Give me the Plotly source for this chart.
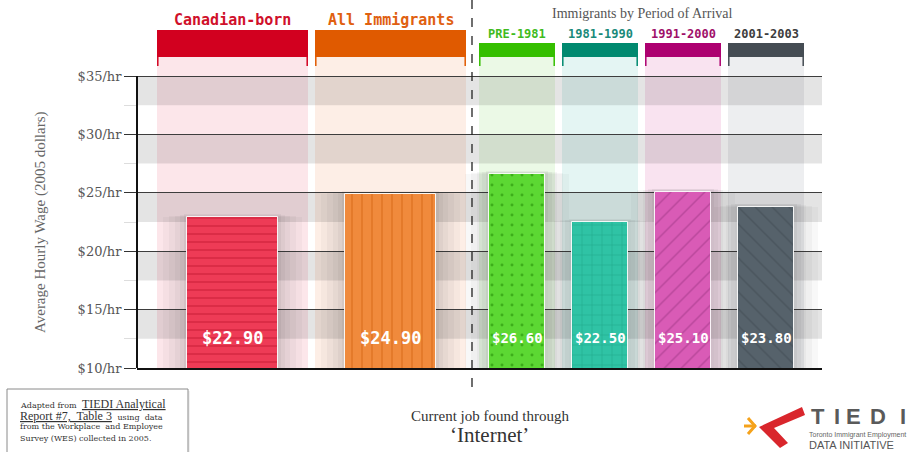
import plotly.graph_objects as go

# ---------------- data ----------------
categories = ["Canadian-born", "All Immigrants", "PRE-1981", "1981-1990", "1991-2000", "2001-2003"]
wages = [22.90, 24.90, 26.60, 22.50, 25.10, 23.80]
tick_vals = [10, 15, 20, 25, 30, 35]
tick_text = ["$10/hr", "$15/hr", "$20/hr", "$25/hr", "$30/hr", "$35/hr"]

# ---------------- layout constants (pixels of the 916x452 canvas) ----------------
W, H = 916, 452
PL, PR, PT, PB = 137, 822, 30, 368          # plot area
Y_MIN, Y_PX = 10, 11.68                      # $10 at bottom, px per dollar
Y_MAX = Y_MIN + (PB - PT) / Y_PX
col_centers = [95.5, 253.5, 380, 463, 546, 629]   # x in plot units (px from left of plot)
col_widths = [151, 151, 76, 76, 76, 76]
bar_widths = [91, 91, 56, 56, 56, 56]
header_tops = [30, 30, 43, 43, 43, 43]
header_colors = ["#D2001F", "#E05A00", "#35BF00", "#00896F", "#AD0070", "#454C53"]
label_colors = ["#D0102A", "#E06010", "#40BB20", "#1A8A7A", "#A0106A", "#3D3D3D"]
col_bg = ["#FCE6EA", "#FDEEE6", "#EBF9E6", "#E4F5F3", "#F9E3F0", "#EDEEF0"]
bar_colors = ["#EE3B56", "#F08A3C", "#5CD833", "#2FC3A5", "#D95BB6", "#56626B"]
pat_colors = ["#D42540", "#DD6F1E", "#3DAE1A", "#1FA68A", "#B9479B", "#4A555D"]
pat_shapes = ["-", "|", ".", "+", "/", "\\"]
pat_sizes = [8, 10, 10, 10, 12, 12]
pat_solid = [0.18, 0.12, 0.07, 0.1, 0.12, 0.12]


def px(x):
    return (x - PL) / (PR - PL)


def py(y):
    return (PB - y) / (PB - PT)


fig = go.Figure()

# soft shadows behind bars
for grow, lift, alpha in [(48, 0.0, 0.03), (36, 0.1, 0.035), (24, 0.15, 0.04),
                          (14, 0.2, 0.045), (6, 0.25, 0.05)]:
    fig.add_trace(go.Bar(
        x=col_centers, y=[v + lift for v in wages],
        width=[w + grow for w in bar_widths],
        marker=dict(color=f"rgba(40,40,40,{alpha})", line=dict(width=0)),
        hoverinfo="skip", showlegend=False))

# bars
for i, cat in enumerate(categories):
    fig.add_trace(go.Bar(
        x=[col_centers[i]], y=[wages[i]], width=[bar_widths[i]], name=cat,
        marker=dict(color=bar_colors[i],
                    line=dict(color="rgba(255,255,255,0.9)", width=1),
                    pattern=dict(shape=pat_shapes[i], fgcolor=pat_colors[i],
                                 bgcolor=bar_colors[i], size=pat_sizes[i],
                                 solidity=pat_solid[i], fillmode="replace")),
        showlegend=False, hovertemplate="%{y:$.2f}<extra>" + cat + "</extra>"))

shapes = []
# column backgrounds
for i in range(6):
    shapes.append(dict(type="rect", xref="x", yref="paper", layer="below",
                       x0=col_centers[i] - col_widths[i] / 2, x1=col_centers[i] + col_widths[i] / 2,
                       y0=0, y1=py(57), fillcolor=col_bg[i], line=dict(width=0)))
# gray bands
for lo in [12.5, 17.5, 22.5, 27.5, 32.5]:
    shapes.append(dict(type="rect", xref="paper", yref="y", layer="below",
                       x0=0, x1=1, y0=lo, y1=lo + 2.5,
                       fillcolor="rgba(0,0,0,0.105)", line=dict(width=0)))
# headers + brackets
for i in range(6):
    x0 = col_centers[i] - col_widths[i] / 2
    x1 = col_centers[i] + col_widths[i] / 2
    shapes.append(dict(type="rect", xref="x", yref="paper", layer="above",
                       x0=x0, x1=x1, y0=py(57), y1=py(header_tops[i]),
                       fillcolor=header_colors[i], line=dict(width=0)))
    for xx in (x0 + 0.8, x1 - 0.8):
        shapes.append(dict(type="line", xref="x", yref="paper", layer="above",
                           x0=xx, x1=xx, y0=py(57), y1=py(66),
                           line=dict(color=header_colors[i], width=1.5)))
# left axis line
shapes.append(dict(type="line", xref="paper", yref="y", layer="above",
                   x0=0, x1=0, y0=10, y1=35, line=dict(color="#111", width=2)))
# dashed divider
shapes.append(dict(type="line", xref="paper", yref="paper", layer="above",
                   x0=px(472), x1=px(472), y0=py(0), y1=py(390),
                   line=dict(color="#222", width=1.3, dash="dash")))
# footnote box
shapes.append(dict(type="rect", xref="paper", yref="paper", layer="above",
                   x0=px(9), x1=px(190), y0=py(391), y1=py(455),
                   fillcolor="rgba(0,0,0,0.06)", line=dict(width=0)))
shapes.append(dict(type="rect", xref="paper", yref="paper", layer="above",
                   x0=px(7), x1=px(188), y0=py(389), y1=py(453),
                   fillcolor="white", line=dict(color="#8a8a8a", width=1)))
# logo marks
arrow = [(802, 407), (805, 415), (774, 428), (788, 443), (780, 448), (759, 427)]
path = "M " + " L ".join(f"{px(a):.5f},{py(b):.5f}" for a, b in arrow) + " Z"
shapes.append(dict(type="path", xref="paper", yref="paper", layer="above", path=path,
                   fillcolor="#D9262C", line=dict(width=0)))
chev = [(748, 418), (755, 426), (748, 434)]
shapes.append(dict(type="path", xref="paper", yref="paper", layer="above",
                   path="M " + " L ".join(f"{px(a):.5f},{py(b):.5f}" for a, b in chev),
                   line=dict(color="#F5A21B", width=3)))
shapes.append(dict(type="line", xref="paper", yref="paper", layer="above",
                   x0=px(744), x1=px(756), y0=py(426), y1=py(426),
                   line=dict(color="#F5A21B", width=3)))

ann = []


def add_text(x, y, text, font, xref="paper", xanchor="center", **kw):
    ann.append(dict(x=x, y=y, xref=xref, yref="paper", text=text, showarrow=False,
                    xanchor=xanchor, yanchor="middle", font=font, **kw))


# header labels + value labels
for i, cat in enumerate(categories):
    big = i < 2
    add_text(col_centers[i], py(20 if big else 34), f"<b>{cat}</b>",
             dict(family="DejaVu Sans Mono", size=15 if big else 12, color=label_colors[i]),
             xref="x")
    add_text(col_centers[i], py(338), f"<b>${wages[i]:.2f}</b>",
             dict(family="DejaVu Sans Mono", size=17 if big else 14, color="white"), xref="x")
add_text(px(642), py(13), "Immigrants by Period of Arrival",
         dict(family="Liberation Serif", size=14, color="#555"))
add_text(px(40), py(222), "Average Hourly Wage (2005 dollars)",
         dict(family="Liberation Serif", size=15, color="#666"), textangle=-90)
add_text(px(490), py(416), "Current job found through",
         dict(family="Liberation Serif", size=15, color="#333"))
add_text(px(490), py(435), "\u2018Internet\u2019",
         dict(family="Liberation Serif", size=21, color="#333"))
# footnote text
SMALL = "font-family:DejaVu Serif;font-size:8px"
foot = [
    (404, f"<span style='{SMALL}'>Adapted from </span> <u>TIEDI Analytical</u>", 12),
    (416, f"<u>Report #7,  Table 3</u> <span style='{SMALL}'> using  data</span>", 12),
    (427, "from the Workplace  and Employee", 8),
    (438, "Survey (WES) collected in 2005.", 8),
]
for yy, t, sz in foot:
    fam = "Liberation Serif" if sz > 10 else "DejaVu Serif"
    add_text(px(18), py(yy), t, dict(family=fam, size=sz, color="#333"), xanchor="left")
# logo text
for ch, cx in zip("TIEDI", [818, 837, 853, 878, 903]):
    add_text(px(cx), py(416), f"<b>{ch}</b>",
             dict(family="Liberation Sans", size=22, color="#5a5a5a"))
add_text(px(807), py(434.5), "Toronto Immigrant Employment",
         dict(family="Liberation Sans Narrow, Liberation Sans", size=7, color="#666"),
         xanchor="left")
add_text(px(807), py(445), "DATA INITIATIVE",
         dict(family="Liberation Sans", size=11, color="#555"), xanchor="left")

fig.update_layout(
    width=W, height=H,
    margin=dict(l=PL, r=W - PR, t=PT, b=H - PB, pad=0),
    paper_bgcolor="white", plot_bgcolor="white",
    barmode="overlay", bargap=0,
    shapes=shapes, annotations=ann, showlegend=False,
    xaxis=dict(range=[0, PR - PL], showgrid=False, zeroline=False, showticklabels=False,
               ticks="", showline=True, linecolor="#111", linewidth=2, fixedrange=True),
    yaxis=dict(range=[Y_MIN, Y_MAX], tickvals=tick_vals, ticktext=tick_text,
               showgrid=True, gridcolor="#3d3d3d", gridwidth=1, zeroline=False,
               ticks="outside", ticklen=12, tickcolor="#333", tickwidth=1,
               tickfont=dict(family="DejaVu Serif", size=13, color="#555"),
               minor=dict(tickvals=[12.5, 17.5, 22.5, 27.5, 32.5], ticks="outside",
                          ticklen=12, tickcolor="#ddd", showgrid=False),
               showline=False, fixedrange=True),
)

fig.write_html("out.html")
